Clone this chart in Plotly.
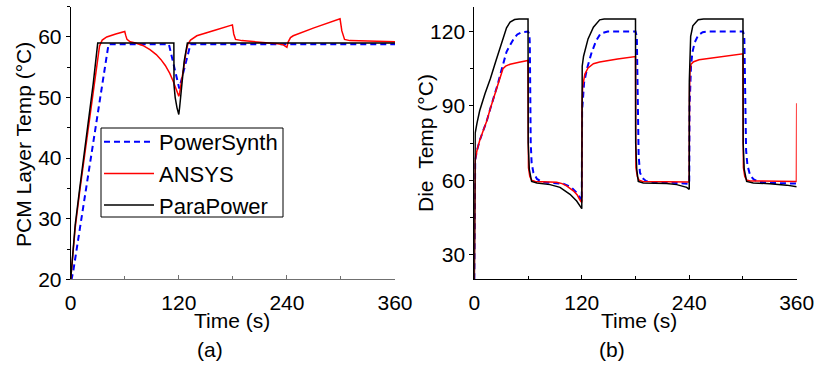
# Import Libraries
import plotly.graph_objects as go

# Data: (a) PCM layer temperature
pcm_ps_t = [0, 1, 3, 42, 109, 120.5, 133, 360]
pcm_ps_v = [20, 20, 21.5, 58.8, 58.8, 51.5, 58.8, 58.8]

pcm_ansys_t = [0, 2, 5, 10, 18, 25, 30, 32, 35, 40, 50, 60, 61, 62.5, 66, 72, 80, 88, 95, 100, 105,
               110, 114, 117, 120, 121, 123, 125.5, 128, 130, 133, 140, 160, 179.5, 181, 183, 190,
               210, 230, 236, 240, 241.5, 244, 247, 270, 299, 301, 304, 310, 340, 360]
pcm_ansys_v = [20, 23.5, 28.5, 34.5, 43.5, 51.5, 57, 58.5, 59.5, 60, 60.5, 60.9, 60.3, 59.6, 59.2, 59,
               58.6, 57.9, 57.1, 56.3, 55.3, 54, 52.6, 51.2, 50.2, 50.8, 52.5, 55, 57.5, 58.8, 59.5,
               60.2, 61.1, 62, 60.5, 59.6, 59.4, 59.2, 58.9, 58.7, 58.3, 59.2, 59.9, 60.2, 61.5, 63,
               61, 59.6, 59.4, 59.3, 59.2]

pcm_para_t = [0, 2, 5, 10, 18, 25, 30, 114.5, 114.7, 116, 118, 119, 120, 121, 123, 126, 129.5, 360]
pcm_para_v = [20, 24, 29, 35, 44, 52.3, 59, 59, 52, 50, 48.3, 47.6, 47.2, 48.5, 52, 56, 59, 59]

# Data: (b) die temperature
die_ps_t = [0, 0.3, 1, 3, 6, 10, 14, 18, 22, 26, 30, 33, 36, 40, 44, 48, 53, 60, 61.5, 62, 62.5, 63,
            64, 66, 70, 75, 81, 90, 100, 108, 114, 118, 120, 120.4, 122.6, 126.2, 131, 136, 141, 149,
            180, 181.5, 182, 182.5, 183.5, 185, 188, 192, 200, 220, 235, 240, 240.4, 241, 242, 243.5,
            246, 250, 255, 262, 300, 301.5, 302, 302.5, 303.5, 305, 308, 312, 318, 330, 360]
die_ps_v = [20, 62, 68, 72, 76, 80, 84, 89, 93.5, 98.5, 104, 108.5, 111.8, 114.5, 117, 118.8, 119.7,
            120, 119, 115, 90, 75, 67, 63, 60.5, 59.4, 59, 58.9, 58.5, 57.2, 55, 53, 51.5, 88, 99.4,
            105.5, 111.5, 116.2, 119.2, 120, 120, 118, 100, 85, 70, 63, 60.8, 59.6, 59.2, 59, 58.8,
            58.5, 90, 100, 106, 111.5, 115.5, 118.5, 119.7, 120, 120, 118, 100, 85, 72, 66, 62, 60.3,
            59.3, 58.9, 58.6]

die_ansys_t = [0, 0.3, 1, 3, 6, 10, 14, 18, 22, 26, 30, 32, 35, 40, 50, 60, 60.2, 60.5, 62, 64, 68,
               80, 92, 98, 103, 110.6, 115, 118, 120, 120.3, 121, 123.5, 127, 133, 140, 160, 180,
               180.2, 180.5, 182, 184, 188, 200, 220, 240, 240.3, 240.8, 242, 245, 251, 275, 300,
               300.2, 300.5, 302, 304, 308, 330, 359.7, 360]
die_ansys_v = [20, 62, 68, 72, 76, 80, 84, 89, 93.5, 98.5, 103.5, 105, 106, 106.8, 107.6, 108.3, 80,
               65, 61.5, 60, 59.5, 59.3, 59.2, 58.6, 57.7, 55.7, 54, 52, 51, 90, 98, 102.8, 105.3,
               107, 107.7, 108.9, 109.9, 80, 65, 61.5, 60, 59.5, 59.4, 59.4, 59.3, 95, 104, 106.8,
               107.8, 108.6, 109.8, 111, 80, 65, 61.5, 60.1, 59.7, 59.5, 59.5, 91]

die_para_t = [0, 0.3, 1, 3, 6, 12, 18, 24, 29, 33, 36, 40, 45, 50, 60, 60.2, 61.4, 64, 70, 84.6, 95.7,
              106.9, 114.3, 120, 120.1, 120.5, 122, 127, 133, 140, 145, 180, 180.2, 181.4, 183.1,
              188.7, 215, 226, 237.2, 240, 240.1, 240.6, 241.6, 244, 250, 256, 300, 300.2, 301.4,
              304.1, 311.5, 330, 348.8, 360]
die_para_v = [20, 72, 79, 83, 88, 95, 101, 108, 113.5, 118.5, 121.5, 123.8, 124.8, 125, 125, 75, 64.4,
              59.5, 58.9, 58.2, 57.1, 54.3, 51.6, 48.5, 100, 106, 110, 117, 121.7, 124.7, 125, 125,
              75, 64.4, 59.5, 58.9, 58.7, 58.2, 57.1, 56.3, 100, 108, 118, 122.3, 124.7, 125, 125,
              75, 64.4, 59.5, 58.9, 58.6, 58, 57.3]

BLUE, RED, BLACK = "#0000FF", "#FF0000", "#000000"
FONT = "Liberation Sans, Arial, sans-serif"
W, H = 815, 371

fig = go.Figure()

# left panel
fig.add_trace(go.Scatter(x=pcm_ps_t, y=pcm_ps_v, mode="lines", name="PowerSynth",
                         line=dict(color=BLUE, width=2, dash="6px,4px"), xaxis="x", yaxis="y"))
fig.add_trace(go.Scatter(x=pcm_ansys_t, y=pcm_ansys_v, mode="lines", name="ANSYS",
                         line=dict(color=RED, width=1.5), xaxis="x", yaxis="y"))
fig.add_trace(go.Scatter(x=pcm_para_t, y=pcm_para_v, mode="lines", name="ParaPower",
                         line=dict(color=BLACK, width=1.5), xaxis="x", yaxis="y"))

# right panel
fig.add_trace(go.Scatter(x=die_ps_t, y=die_ps_v, mode="lines", showlegend=False,
                         line=dict(color=BLUE, width=2, dash="6px,4px"), xaxis="x2", yaxis="y2"))
fig.add_trace(go.Scatter(x=die_ansys_t, y=die_ansys_v, mode="lines", showlegend=False,
                         line=dict(color=RED, width=1.5), xaxis="x2", yaxis="y2"))
fig.add_trace(go.Scatter(x=die_para_t, y=die_para_v, mode="lines", showlegend=False,
                         line=dict(color=BLACK, width=1.5), xaxis="x2", yaxis="y2"))

xcommon = dict(range=[0, 360], tickmode="linear", tick0=0, dtick=120, ticks="inside", ticklen=4,
               showline=True, showgrid=False, zeroline=False, ticklabelstandoff=4, automargin=False,
               tickfont=dict(size=21, color="black"),
               minor=dict(ticks="inside", ticklen=3, tick0=0, dtick=60))
ycommon = dict(ticks="outside", ticklen=4, tickcolor="black", showline=True, linecolor="black",
               showgrid=False, zeroline=False, automargin=False,
               tickfont=dict(size=21, color="black"))

ydom = [1 - 279.3 / H, 1 - 6.7 / H]

fig.update_layout(
    width=W, height=H,
    margin=dict(l=0, r=0, t=0, b=0),
    paper_bgcolor="white", plot_bgcolor="white",
    font=dict(family=FONT, size=21, color="black"),
    xaxis=dict(domain=[70.7 / W, 395 / W], anchor="y", linecolor="#707070", tickcolor="#707070",
               **xcommon),
    yaxis=dict(domain=ydom, anchor="x", range=[20, 65], tickmode="linear", tick0=20,
               dtick=10, minor=dict(ticks="outside", ticklen=3, tickcolor="black", tick0=20, dtick=5),
               **ycommon),
    xaxis2=dict(domain=[474.3 / W, 796.7 / W], anchor="y2", linecolor="black", tickcolor="black",
                **xcommon),
    yaxis2=dict(domain=ydom, anchor="x2", range=[20, 130], tickmode="linear", tick0=30,
                dtick=30, minor=dict(ticks="outside", ticklen=3, tickcolor="black", tick0=30, dtick=15),
                **ycommon),
    legend=dict(x=99 / W, y=1 - 121 / H, xanchor="left", yanchor="top",
                bgcolor="rgba(0,0,0,0)", borderwidth=0, font=dict(size=22), itemwidth=50,
                tracegroupgap=0),
    showlegend=True,
)

# legend frame
fig.add_shape(type="rect", xref="paper", yref="paper", x0=101 / W, x1=283 / W,
              y0=1 - 217 / H, y1=1 - 128 / H, line=dict(color="black", width=1),
              fillcolor="white", layer="above")

# axis titles and panel labels
notes = [
    dict(x=232, y=320, text="Time (s)"),
    dict(x=639, y=320, text="Time (s)"),
    dict(x=210, y=349, text="(a)"),
    dict(x=612, y=349, text="(b)"),
    dict(x=23, y=145, text="PCM Layer Temp (°C)", textangle=-90),
    dict(x=426, y=143, text="Die \u00a0Temp (°C)", textangle=-90),
]
for n in notes:
    fig.add_annotation(x=n["x"] / W, y=1 - n["y"] / H, xref="paper", yref="paper",
                       text=n["text"], showarrow=False, textangle=n.get("textangle", 0),
                       xanchor="center", yanchor="middle", font=dict(size=21, color="black"))

# page body margin off so the figure sits at the window corner
fig.write_html("out.html", config={"displayModeBar": False},
               post_script="document.body.style.margin='0';")
